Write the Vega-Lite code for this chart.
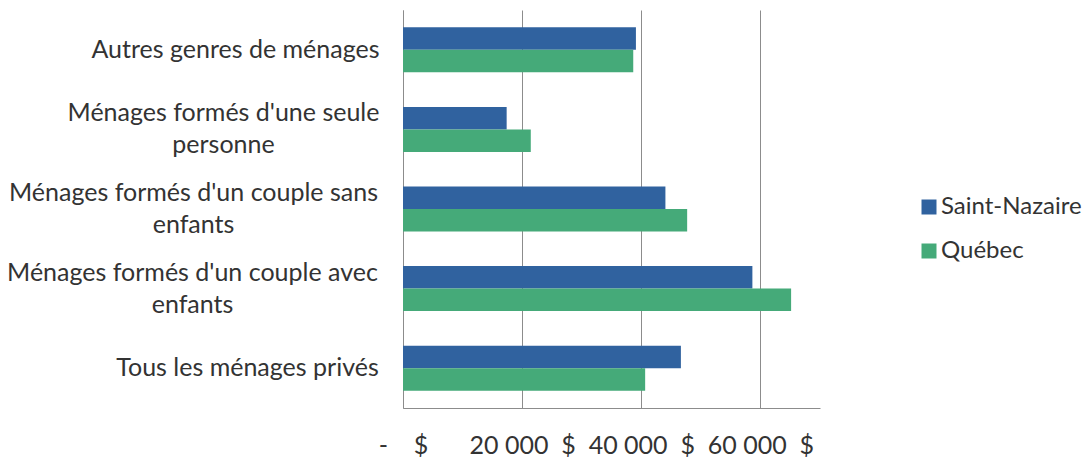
{
  "$schema": "https://vega.github.io/schema/vega-lite/v6.json",
  "width": 417,
  "height": 398,
  "autosize": {"type": "none"},
  "padding": {"left": 403, "top": 10, "right": 268, "bottom": 52},
  "background": "white",
  "config": {
    "view": {"stroke": null},
    "font": "Lato",
    "axis": {"labelFont": "Lato", "labelColor": "#333333"},
    "legend": {"labelFont": "Lato", "labelColor": "#333333"}
  },
  "data": {
    "values": [
      {"menage": "Autres genres de ménages", "lieu": "Saint-Nazaire", "revenu": 39100},
      {"menage": "Autres genres de ménages", "lieu": "Québec", "revenu": 38650},
      {"menage": "Ménages formés d'une seule personne", "lieu": "Saint-Nazaire", "revenu": 17400},
      {"menage": "Ménages formés d'une seule personne", "lieu": "Québec", "revenu": 21450},
      {"menage": "Ménages formés d'un couple sans enfants", "lieu": "Saint-Nazaire", "revenu": 44050},
      {"menage": "Ménages formés d'un couple sans enfants", "lieu": "Québec", "revenu": 47700},
      {"menage": "Ménages formés d'un couple avec enfants", "lieu": "Saint-Nazaire", "revenu": 58650},
      {"menage": "Ménages formés d'un couple avec enfants", "lieu": "Québec", "revenu": 65150},
      {"menage": "Tous les ménages privés", "lieu": "Saint-Nazaire", "revenu": 46650},
      {"menage": "Tous les ménages privés", "lieu": "Québec", "revenu": 40650}
    ]
  },
  "mark": {"type": "bar"},
  "encoding": {
    "y": {
      "field": "menage",
      "type": "nominal",
      "sort": null,
      "title": null,
      "scale": {"paddingInner": 0.435, "paddingOuter": 0.2175},
      "axis": {
        "ticks": false,
        "domainColor": "#8c8c8c",
        "labelFontSize": 25,
        "labelAlign": "center",
        "labelLineHeight": 32,
        "labelLimit": 500,
        "labelPadding": {
          "condition": [
            {"test": "datum.value == 'Autres genres de ménages'", "value": 168},
            {"test": "datum.value == 'Tous les ménages privés'", "value": 156},
            {"test": "indexof(datum.value, 'seule') >= 0", "value": 180},
            {"test": "indexof(datum.value, 'sans') >= 0", "value": 210}
          ],
          "value": 211
        },
        "labelOffset": {
          "condition": {"test": "length(datum.value) > 30", "value": -16},
          "value": 0
        },
        "labelExpr": "length(datum.label) > 30 ? [slice(datum.label, 0, lastindexof(datum.label, ' ')), slice(datum.label, lastindexof(datum.label, ' ') + 1)] : datum.label"
      }
    },
    "x": {
      "field": "revenu",
      "type": "quantitative",
      "title": null,
      "scale": {"domain": [0, 70000], "nice": false},
      "axis": {
        "values": [0, 20000, 40000, 60000],
        "grid": true,
        "gridColor": "#8c8c8c",
        "domainColor": "#8c8c8c",
        "ticks": false,
        "labelFontSize": 25,
        "labelBaseline": "middle",
        "labelPadding": 37,
        "labelFlush": false,
        "labelExpr": "datum.value == 0 ? '-\u00a0\u00a0\u00a0\u00a0$' : replace(format(datum.value, ','), ',', ' ') + '\u00a0\u00a0$'"
      }
    },
    "yOffset": {"field": "lieu", "type": "nominal", "sort": ["Saint-Nazaire", "Québec"]},
    "color": {
      "field": "lieu",
      "type": "nominal",
      "sort": ["Saint-Nazaire", "Québec"],
      "scale": {"domain": ["Saint-Nazaire", "Québec"], "range": ["#30629F", "#45AA79"]},
      "legend": {
        "title": null,
        "orient": "none",
        "legendX": 514,
        "legendY": 185,
        "symbolType": "square",
        "symbolSize": 225,
        "symbolStrokeWidth": 0,
        "labelFontSize": 24,
        "labelOffset": 0,
        "rowPadding": 20
      }
    }
  }
}
